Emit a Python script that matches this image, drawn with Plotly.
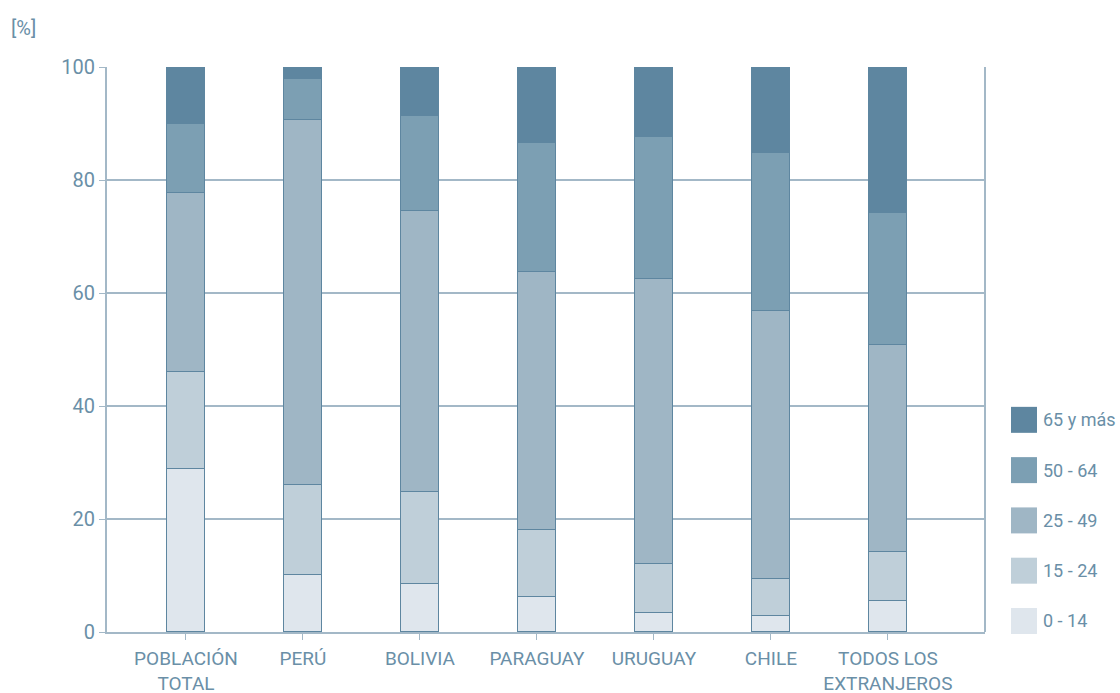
import plotly.graph_objects as go

categorias = ["POBLACIÓN<br>TOTAL", "PERÚ", "BOLIVIA", "PARAGUAY", "URUGUAY", "CHILE", "TODOS LOS<br>EXTRANJEROS"]

edad_0_14 = [28.8, 10.1, 8.5, 6.2, 3.4, 2.8, 5.5]
edad_15_24 = [17.2, 15.9, 16.3, 11.9, 8.6, 6.6, 8.7]
edad_25_49 = [31.7, 64.6, 49.7, 45.6, 50.5, 47.4, 36.6]
edad_50_64 = [12.2, 7.3, 16.8, 22.8, 25.1, 28.0, 23.4]
edad_65_mas = [10.1, 2.1, 8.7, 13.5, 12.4, 15.2, 25.8]

grupos = ["0 - 14", "15 - 24", "25 - 49", "50 - 64", "65 y más"]
series = [edad_0_14, edad_15_24, edad_25_49, edad_50_64, edad_65_mas]
colores = ["#dfe6ed", "#bfcfd9", "#9fb6c5", "#7c9fb3", "#5e86a0"]

texto = "#6a8fa7"
linea = "#a3b8c7"
fuente = "Roboto, sans-serif"

fig = go.Figure()
for nombre, valores, color in zip(grupos, series, colores):
    fig.add_trace(go.Bar(x=categorias, y=valores, name=nombre, showlegend=False,
                         marker=dict(color=color, line=dict(color="#5e86a0", width=1)),
                         width=0.33))

fig.update_layout(
    barmode="stack",
    width=1120, height=693,
    margin=dict(l=107, r=135, t=67, b=61),
    plot_bgcolor="white", paper_bgcolor="white",
    font=dict(family=fuente, size=19, color=texto),
    bargap=0,
)

fig.update_xaxes(range=[-0.675, 6.83], showline=True, linecolor=linea, linewidth=2,
                 ticks="outside", tickcolor=linea, ticklen=6, automargin=False,
                 ticklabelstandoff=2,
                 tickfont=dict(size=19, color=texto), showgrid=False)
fig.update_yaxes(range=[0, 100], dtick=20, showline=True, linecolor=linea, linewidth=2,
                 ticks="outside", tickcolor=linea, ticklen=6, automargin=False,
                 gridcolor=linea, gridwidth=1.5, zeroline=False,
                 tickfont=dict(size=20, color=texto))

# marco derecho
fig.add_shape(type="line", xref="paper", yref="paper", x0=1, x1=1, y0=0, y1=1,
              line=dict(color=linea, width=2))

# leyenda con cuadros grandes
for i, (nombre, color) in enumerate(zip(grupos, colores)):
    yc = 0.0195 + i * 0.089
    fig.add_shape(type="rect", xref="paper", yref="paper",
                  x0=1.0296, x1=1.0592, y0=yc - 0.023, y1=yc + 0.023,
                  fillcolor=color, line=dict(width=0))
    fig.add_annotation(text=nombre, xref="paper", yref="paper", x=1.064, y=yc,
                       xanchor="left", yanchor="middle", showarrow=False,
                       font=dict(size=18, color=texto))

fig.add_annotation(text="[%]", xref="paper", yref="paper", x=-0.112, y=1.069,
                   xanchor="left", yanchor="middle", showarrow=False,
                   font=dict(size=20, color=texto))

# quitar el margen del body para que la figura llene la ventana
fig.write_html("out.html", config={"displayModeBar": False},
               post_script="document.body.style.margin='0';")
